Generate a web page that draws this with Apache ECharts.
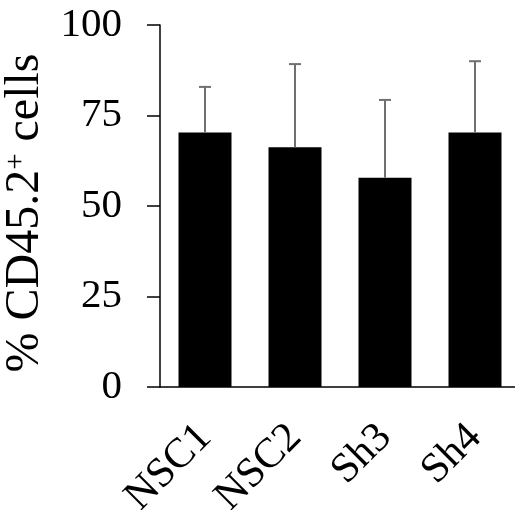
<!DOCTYPE html>
<html>
<head>
<meta charset="utf-8">
<script src="https://cdn.jsdelivr.net/npm/echarts@6/dist/echarts.min.js"></script>
<style>html,body{margin:0;padding:0;background:#fff}#c{width:515px;height:510px}</style>
</head>
<body>
<div id="c"></div>
<script>
const categories = ['NSC1', 'NSC2', 'Sh3', 'Sh4'];
const means = [70.3, 66.2, 57.8, 70.3];
const errors = [12.6, 23.0, 21.5, 19.7];
const yTicks = [0, 25, 50, 75, 100];

const chart = echarts.init(document.getElementById('c'), null, {renderer: 'canvas'});
const font = 'Liberation Serif';

chart.setOption({
  animation: false,
  backgroundColor: '#fff',
  grid: {left: 160, top: 25, width: 360, height: 362, outerBoundsMode: 'none', containLabel: false},
  xAxis: {
    type: 'category',
    data: categories,
    axisLine: {lineStyle: {color: '#000', width: 1.5}},
    axisTick: {show: false},
    axisLabel: {rotate: 45, margin: 44, fontFamily: font, fontSize: 42, color: '#000'}
  },
  yAxis: {
    type: 'value',
    min: yTicks[0], max: yTicks[yTicks.length - 1], interval: 25,
    splitLine: {show: false},
    axisLine: {show: true, lineStyle: {color: '#000', width: 1.5}},
    axisTick: {show: true, inside: false, length: 13, lineStyle: {color: '#000', width: 1.5}},
    axisLabel: {margin: 38, fontFamily: font, fontSize: 41, color: '#000'},
    name: '% CD45.2{sup|+} cells',
    nameLocation: 'middle',
    nameGap: 108,
    nameTextStyle: {
      fontFamily: font, fontSize: 48, color: '#000',
      padding: [0, 14, 0, 0],
      rich: {sup: {fontFamily: font, fontSize: 29, color: '#000', verticalAlign: 'top', padding: [0, 0, 19, 0]}}
    }
  },
  series: [
    {
      type: 'bar',
      data: means,
      barWidth: 53,
      itemStyle: {color: '#000'}
    },
    {
      type: 'custom',
      data: means.map((m, i) => [i, m, m + errors[i]]),
      encode: {x: 0, y: [1, 2]},
      z: 3,
      renderItem: function (params, api) {
        const p0 = api.coord([api.value(0), api.value(1)]);
        const p1 = api.coord([api.value(0), api.value(2)]);
        const hw = 6;
        const st = {stroke: '#707070', lineWidth: 2};
        return {
          type: 'group',
          children: [
            {type: 'line', shape: {x1: p0[0], y1: p0[1], x2: p1[0], y2: p1[1]}, style: st},
            {type: 'line', shape: {x1: p1[0] - hw, y1: p1[1], x2: p1[0] + hw, y2: p1[1]}, style: st}
          ]
        };
      }
    }
  ]
});
</script>
</body>
</html>
